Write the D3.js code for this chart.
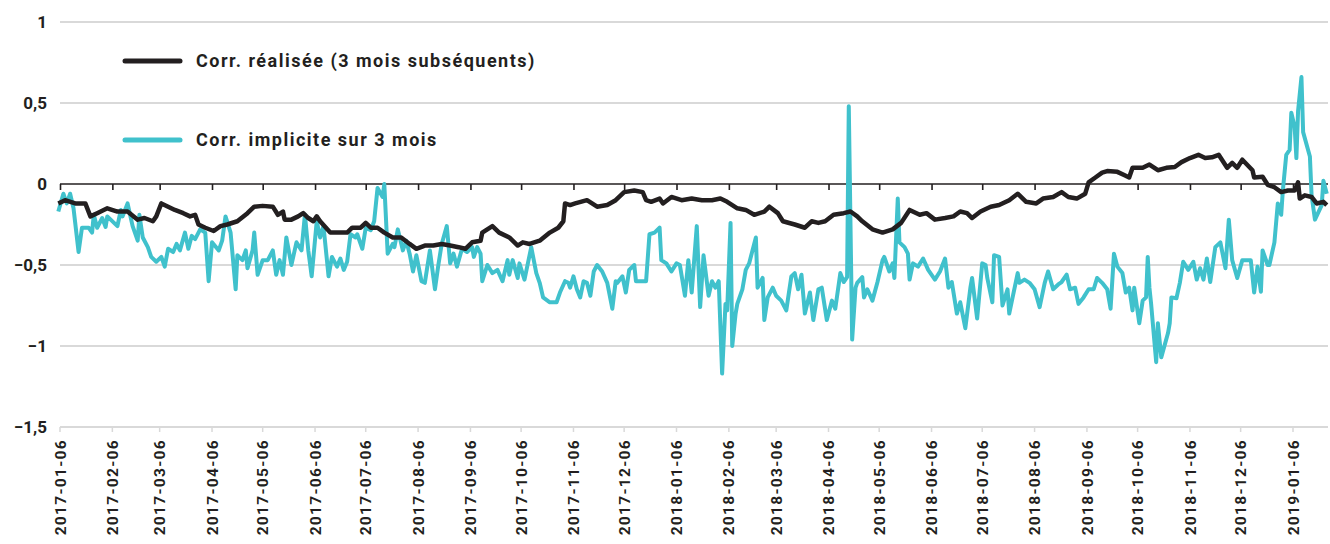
<!DOCTYPE html>
<html>
<head>
<meta charset="utf-8">
<script src="https://cdn.jsdelivr.net/npm/d3@7"></script>
<style>
  body { margin: 0; background: #fff; }
  text { font-family: Roboto, "DejaVu Sans", sans-serif; font-weight: 700; fill: #231f20; }
</style>
</head>
<body>
<script>
let width = 1330,
    height = 544;

// Data: [days after 2017-01-06, correlation]
const startDate = "2017-01-06";

const realized = [
  [-1, -0.12], [3, -0.10], [9, -0.12], [15, -0.12], [18, -0.20], [22, -0.18], [28, -0.15],
  [34, -0.17], [40, -0.17], [46, -0.22], [50, -0.21], [55, -0.23], [57, -0.20], [60, -0.12],
  [64, -0.14], [68, -0.16], [73, -0.18], [77, -0.20], [80, -0.19], [82, -0.25], [86, -0.27],
  [91, -0.29], [95, -0.26], [99, -0.25], [105, -0.23], [111, -0.18], [115, -0.14], [120, -0.135],
  [126, -0.14], [129, -0.19], [132, -0.17], [133, -0.22], [137, -0.22], [141, -0.20], [144, -0.18],
  [147, -0.21], [150, -0.23], [152, -0.20], [154, -0.23], [160, -0.30], [166, -0.30], [170, -0.30],
  [173, -0.27], [178, -0.27], [181, -0.24], [184, -0.27], [188, -0.27], [192, -0.30], [197, -0.33],
  [202, -0.33], [207, -0.37], [211, -0.40], [216, -0.38], [221, -0.38], [226, -0.37], [231, -0.38],
  [236, -0.39], [240, -0.40], [244, -0.36], [249, -0.35], [250, -0.30], [256, -0.26], [260, -0.30],
  [266, -0.33], [271, -0.38], [274, -0.36], [278, -0.37], [284, -0.35], [290, -0.30], [295, -0.27],
  [298, -0.23], [299, -0.12], [302, -0.13], [305, -0.12], [312, -0.10], [318, -0.14], [324, -0.13],
  [329, -0.10], [334, -0.05], [340, -0.04], [345, -0.05], [347, -0.10], [350, -0.11], [355, -0.09],
  [357, -0.12], [362, -0.08], [368, -0.10], [374, -0.09], [380, -0.10], [386, -0.10], [391, -0.09],
  [395, -0.11], [401, -0.15], [406, -0.16], [411, -0.19], [417, -0.17], [420, -0.14], [425, -0.18],
  [428, -0.23], [435, -0.25], [441, -0.27], [445, -0.23], [449, -0.24], [453, -0.23], [458, -0.19],
  [464, -0.18], [468, -0.17], [472, -0.20], [475, -0.23], [481, -0.28], [487, -0.30], [493, -0.28],
  [498, -0.24], [503, -0.16], [509, -0.19], [513, -0.18], [518, -0.22], [524, -0.21], [529, -0.20],
  [533, -0.17], [537, -0.18], [540, -0.21], [545, -0.17], [551, -0.14], [556, -0.13], [562, -0.10],
  [567, -0.06], [572, -0.11], [578, -0.12], [582, -0.09], [588, -0.08], [593, -0.05], [597, -0.08],
  [602, -0.09], [607, -0.06], [609, 0.01], [613, 0.04], [617, 0.07], [620, 0.08], [626, 0.075],
  [630, 0.055], [633, 0.04], [635, 0.10], [641, 0.10], [645, 0.12], [650, 0.085], [655, 0.10],
  [660, 0.105], [664, 0.135], [669, 0.16], [674, 0.18], [678, 0.16], [682, 0.165], [686, 0.18],
  [691, 0.10], [694, 0.13], [697, 0.10], [700, 0.15], [706, 0.085], [707, 0.04], [712, 0.045],
  [715, -0.005], [719, -0.02], [723, -0.05], [727, -0.04], [731, -0.04], [733, 0.01], [734, -0.09],
  [737, -0.07], [741, -0.08], [744, -0.12], [748, -0.11], [750, -0.13]
];

const implied = [
  [-1, -0.17], [2, -0.06], [4, -0.12], [6, -0.06], [8, -0.15], [11, -0.42], [13, -0.27], [17, -0.27],
  [19, -0.30], [20, -0.19], [22, -0.27], [25, -0.21], [27, -0.265], [28, -0.20], [34, -0.26], [36, -0.16],
  [37, -0.20], [40, -0.12], [43, -0.26], [46, -0.35], [47, -0.19], [49, -0.33], [52, -0.39], [54, -0.45],
  [57, -0.48], [60, -0.45], [62, -0.51], [64, -0.40], [67, -0.42], [69, -0.37], [71, -0.41], [74, -0.30],
  [76, -0.40], [78, -0.32], [80, -0.34], [83, -0.28], [86, -0.30], [88, -0.60], [90, -0.36], [94, -0.41],
  [96, -0.35], [98, -0.20], [101, -0.30], [104, -0.65], [105, -0.44], [108, -0.47], [110, -0.41],
  [111, -0.52], [114, -0.41], [115, -0.30], [117, -0.56], [120, -0.47], [123, -0.47], [126, -0.41],
  [128, -0.56], [130, -0.47], [132, -0.56], [134, -0.33], [137, -0.50], [140, -0.36], [143, -0.41],
  [145, -0.19], [147, -0.41], [149, -0.57], [152, -0.23], [154, -0.33], [156, -0.26], [159, -0.57],
  [161, -0.45], [164, -0.51], [166, -0.46], [168, -0.53], [170, -0.48], [172, -0.31], [175, -0.33],
  [176, -0.31], [179, -0.40], [181, -0.27], [184, -0.285], [186, -0.23], [188, -0.025], [191, -0.08],
  [192, 0.00], [194, -0.43], [197, -0.37], [198, -0.39], [200, -0.28], [203, -0.41], [205, -0.35],
  [207, -0.43], [209, -0.54], [211, -0.44], [214, -0.60], [216, -0.61], [219, -0.41], [222, -0.65],
  [224, -0.50], [226, -0.37], [229, -0.26], [231, -0.49], [233, -0.43], [235, -0.51], [238, -0.40],
  [241, -0.42], [244, -0.39], [245, -0.45], [247, -0.39], [249, -0.43], [250, -0.60], [253, -0.50],
  [256, -0.55], [259, -0.53], [262, -0.60], [265, -0.47], [266, -0.56], [268, -0.47], [271, -0.58],
  [272, -0.49], [275, -0.59], [279, -0.39], [282, -0.55], [284, -0.61], [286, -0.70], [290, -0.73],
  [294, -0.73], [296, -0.67], [299, -0.60], [301, -0.61], [302, -0.64], [304, -0.57], [306, -0.65],
  [308, -0.70], [310, -0.60], [312, -0.61], [314, -0.69], [316, -0.54], [318, -0.50], [321, -0.54],
  [324, -0.61], [327, -0.77], [329, -0.60], [330, -0.61], [333, -0.57], [335, -0.67], [337, -0.53],
  [340, -0.50], [341, -0.60], [347, -0.60], [349, -0.31], [352, -0.30], [355, -0.27], [356, -0.47],
  [359, -0.49], [362, -0.54], [365, -0.49], [367, -0.50], [370, -0.69], [372, -0.47], [374, -0.67],
  [377, -0.26], [379, -0.76], [381, -0.44], [384, -0.69], [386, -0.60], [388, -0.64], [390, -0.60],
  [392, -1.17], [394, -0.74], [395, -0.78], [397, -0.24], [398, -1.00], [400, -0.80], [401, -0.74],
  [404, -0.65], [406, -0.53], [408, -0.49], [412, -0.33], [413, -0.64], [416, -0.58], [417, -0.84],
  [419, -0.70], [422, -0.64], [424, -0.69], [427, -0.72], [430, -0.78], [433, -0.57], [435, -0.55],
  [437, -0.65], [439, -0.56], [441, -0.80], [444, -0.67], [446, -0.84], [449, -0.65], [451, -0.64],
  [454, -0.84], [457, -0.72], [459, -0.77], [462, -0.55], [464, -0.605], [466, -0.575], [467, 0.48],
  [469, -0.96], [471, -0.64], [472, -0.61], [475, -0.575], [476, -0.70], [478, -0.65], [481, -0.72],
  [484, -0.605], [487, -0.47], [488, -0.45], [491, -0.54], [493, -0.49], [494, -0.58], [496, -0.09],
  [497, -0.36], [500, -0.39], [502, -0.43], [503, -0.59], [505, -0.49], [508, -0.51], [511, -0.46],
  [514, -0.53], [518, -0.59], [521, -0.54], [524, -0.46], [526, -0.64], [528, -0.605], [531, -0.80],
  [533, -0.73], [536, -0.89], [539, -0.64], [540, -0.58], [543, -0.83], [546, -0.49], [548, -0.50],
  [549, -0.58], [552, -0.73], [553, -0.44], [556, -0.45], [558, -0.75], [561, -0.65], [562, -0.80],
  [564, -0.70], [567, -0.55], [568, -0.61], [571, -0.59], [574, -0.61], [577, -0.65], [580, -0.76],
  [583, -0.61], [585, -0.54], [588, -0.65], [591, -0.62], [593, -0.605], [596, -0.56], [598, -0.65],
  [601, -0.64], [603, -0.74], [606, -0.70], [609, -0.65], [612, -0.65], [614, -0.58], [617, -0.61],
  [620, -0.65], [622, -0.77], [624, -0.43], [626, -0.51], [629, -0.55], [631, -0.67], [633, -0.64],
  [635, -0.78], [636, -0.64], [639, -0.86], [641, -0.72], [643, -0.70], [644, -0.45], [645, -0.64],
  [646, -0.74], [649, -1.10], [650, -0.86], [652, -1.07], [656, -0.92], [657, -0.86], [658, -0.70],
  [661, -0.705], [663, -0.61], [665, -0.48], [668, -0.53], [671, -0.48], [673, -0.59], [675, -0.52],
  [677, -0.59], [679, -0.46], [681, -0.605], [684, -0.39], [687, -0.36], [690, -0.52], [692, -0.22],
  [694, -0.47], [697, -0.58], [700, -0.47], [705, -0.47], [707, -0.67], [709, -0.51], [711, -0.665],
  [712, -0.41], [715, -0.50], [716, -0.50], [719, -0.36], [721, -0.12], [723, -0.19], [724, -0.04],
  [726, 0.18], [728, 0.21], [729, 0.44], [731, 0.35], [732, 0.16], [733, 0.45], [735, 0.66],
  [736, 0.32], [740, 0.17], [741, -0.07], [743, -0.22], [747, -0.13], [748, 0.02], [750, -0.06]
];

const yTicks = [1, 0.5, 0, -0.5, -1, -1.5];
const monthTicks = [
  "2017-01-06", "2017-02-06", "2017-03-06", "2017-04-06", "2017-05-06", "2017-06-06",
  "2017-07-06", "2017-08-06", "2017-09-06", "2017-10-06", "2017-11-06", "2017-12-06",
  "2018-01-06", "2018-02-06", "2018-03-06", "2018-04-06", "2018-05-06", "2018-06-06",
  "2018-07-06", "2018-08-06", "2018-09-06", "2018-10-06", "2018-11-06", "2018-12-06",
  "2019-01-06"
];
const seriesNames = ["Corr. réalisée (3 mois subséquents)", "Corr. implicite sur 3 mois"];
const seriesColors = ["#231f20", "#40c1cc"];

const parse = d3.timeParse("%Y-%m-%d");
const t0 = parse(startDate);
const toDate = d => d3.timeDay.offset(t0, d);

const x = d3.scaleTime()
    .domain([t0, parse("2019-01-06")])
    .range([60, 1293]);

const y = d3.scaleLinear()
    .domain([-1.5, 1])
    .range([427, 22]);

const svg = d3.select("body").append("svg")
    .attr("width", width)
    .attr("height", height);

// Gridlines
svg.append("g")
    .selectAll("line")
    .data(yTicks.filter(d => d !== 0))
    .enter().append("line")
    .attr("x1", 60)
    .attr("x2", 1328)
    .attr("y1", d => y(d))
    .attr("y2", d => y(d))
    .attr("stroke", "#d9d9d9")
    .attr("stroke-width", 2);

// Y labels
svg.append("g")
    .selectAll("text")
    .data(yTicks)
    .enter().append("text")
    .attr("x", 47)
    .attr("y", d => y(d))
    .attr("dy", "0.35em")
    .attr("text-anchor", "end")
    .style("font-size", "17px")
    .text(d => d3.format(".1~f")(d).replace(".", ","));

// Gray ticks on the bottom gridline
svg.append("g")
    .selectAll("line")
    .data(monthTicks)
    .enter().append("line")
    .attr("x1", d => x(parse(d)))
    .attr("x2", d => x(parse(d)))
    .attr("y1", y(-1.5))
    .attr("y2", y(-1.5) + 5)
    .attr("stroke", "#d9d9d9")
    .attr("stroke-width", 1.5);

// X labels at bottom
svg.append("g")
    .selectAll("text")
    .data(monthTicks)
    .enter().append("text")
    .attr("transform", d => `translate(${x(parse(d))},439) rotate(-90)`)
    .attr("dy", "0.36em")
    .attr("text-anchor", "end")
    .style("font-size", "15.5px")
    .style("letter-spacing", "1.3px")
    .text(d => d);

// Zero axis with ticks
const axis = d3.axisBottom(x)
    .tickValues(monthTicks.map(parse))
    .tickSize(6)
    .tickFormat("");

const ax = svg.append("g")
    .attr("transform", `translate(0,${y(0)})`)
    .call(axis);
ax.select(".domain")
    .attr("d", `M60,0H1328`)
    .attr("stroke", "#231f20")
    .attr("stroke-width", 1.6);
ax.selectAll(".tick line")
    .attr("stroke", "#231f20")
    .attr("stroke-width", 1.6);

// Lines
const line = d3.line()
    .x(d => x(toDate(d[0])))
    .y(d => y(d[1]));

svg.append("path")
    .datum(implied)
    .attr("fill", "none")
    .attr("stroke", seriesColors[1])
    .attr("stroke-width", 4)
    .attr("stroke-linejoin", "round")
    .attr("d", line);

svg.append("path")
    .datum(realized)
    .attr("fill", "none")
    .attr("stroke", seriesColors[0])
    .attr("stroke-width", 4.5)
    .attr("stroke-linejoin", "round")
    .attr("d", line);

// Legend
const legend = svg.append("g")
    .selectAll("g")
    .data(seriesNames)
    .enter().append("g")
    .attr("transform", (d, i) => `translate(125,${61 + i * 79})`);

legend.append("line")
    .attr("x1", 0)
    .attr("x2", 55)
    .attr("stroke", (d, i) => seriesColors[i])
    .attr("stroke-width", 5)
    .attr("stroke-linecap", "round");

legend.append("text")
    .attr("x", 71)
    .attr("dy", "0.35em")
    .style("font-size", "18px")
    .style("letter-spacing", "1.5px")
    .text(d => d);
</script>
</body>
</html>
